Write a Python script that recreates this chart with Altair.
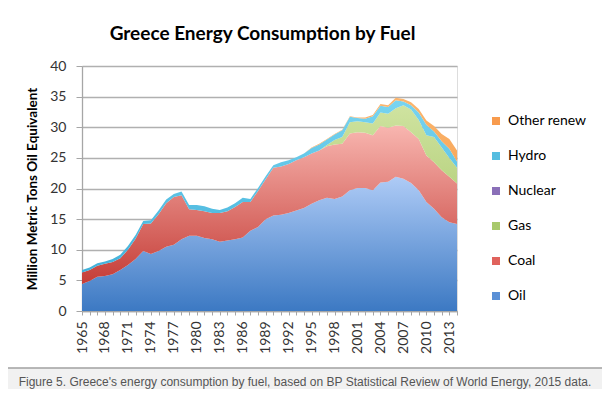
import altair as alt
import pandas as pd

years = list(range(1965, 2015))

oil = [4.4, 4.9, 5.6, 5.7, 6.0, 6.7, 7.5, 8.5, 9.8, 9.3,
       9.8, 10.5, 10.8, 11.7, 12.3, 12.3, 11.9, 11.7, 11.3, 11.5,
       11.7, 12.0, 13.1, 13.7, 15.0, 15.6, 15.7, 16.0, 16.4, 16.8,
       17.5, 18.1, 18.5, 18.3, 18.7, 19.7, 20.1, 20.1, 19.7, 21.0,
       21.1, 21.9, 21.6, 20.9, 19.7, 17.8, 16.7, 15.3, 14.5, 14.2]

coal = [1.9, 1.8, 1.8, 2.0, 2.0, 1.9, 2.5, 3.3, 4.4, 5.0,
        6.0, 7.1, 7.8, 7.2, 4.3, 4.2, 4.4, 4.3, 4.7, 4.8,
        5.3, 5.8, 4.7, 5.9, 6.5, 7.8, 7.9, 8.0, 8.2, 8.3,
        8.2, 8.1, 8.4, 8.9, 8.6, 9.3, 9.1, 9.0, 9.0, 9.2,
        8.8, 8.4, 8.6, 8.3, 8.4, 7.6, 7.6, 7.7, 7.4, 6.6]

gas = [0.0] * 31 + [0.0, 0.2, 0.7, 1.1, 1.8, 1.8, 1.7, 1.9, 2.2,
                    2.3, 2.8, 3.4, 3.7, 3.1, 3.3, 4.1, 3.7, 3.1, 2.6][:19]

nuclear = [0.0] * 50

hydro = [0.4, 0.4, 0.4, 0.4, 0.5, 0.6, 0.6, 0.6, 0.5, 0.5,
         0.6, 0.6, 0.5, 0.6, 0.7, 0.8, 0.8, 0.7, 0.5, 0.6,
         0.6, 0.7, 0.5, 0.5, 0.5, 0.4, 0.7, 0.6, 0.5, 0.6,
         0.9, 1.0, 0.9, 0.9, 1.1, 0.9, 0.5, 0.6, 1.2, 1.1,
         1.1, 1.3, 0.6, 0.7, 1.2, 1.7, 0.9, 1.0, 1.5, 1.0]

other_renew = [0.0] * 30 + [0.1, 0.1, 0.1, 0.1, 0.1, 0.1, 0.1, 0.2, 0.2, 0.3,
                            0.3, 0.4, 0.4, 0.5, 0.6, 0.7, 0.9, 1.2, 1.6, 1.8]

fuels = ["Oil", "Coal", "Gas", "Nuclear", "Hydro", "Other renew"]
series = [oil, coal, gas, nuclear, hydro, other_renew]
legend_colors = ["#5a90d6", "#e0625c", "#a8c96c", "#8a6fb8", "#55bde0", "#f89b4d"]
gradients = {
    "Oil": ("#aecbf6", "#3c79c3"),
    "Coal": ("#f8b6b0", "#c53d37"),
    "Gas": ("#cfe3a0", "#a4c465"),
    "Hydro": ("#78d4f0", "#41b1da"),
    "Other renew": ("#fbb56e", "#f3953f"),
}

title_text = "Greece Energy Consumption by Fuel"
y_title = "Million Metric Tons Oil Equivalent"
caption = "Figure 5. Greece's energy consumption by fuel, based on BP Statistical Review of World Energy, 2015 data."

rows = []
for k, (f, vals) in enumerate(zip(fuels, series)):
    for yr, v in zip(years, vals):
        rows.append({"year": yr, "fuel": f, "value": v, "order": k})
df = pd.DataFrame(rows)

FONT = "Lato"

x_enc = alt.X(
    "year:Q",
    scale=alt.Scale(domain=[1965, 2014], nice=False, zero=False),
    axis=alt.Axis(
        values=years,
        format="d",
        labelExpr="(datum.value - 1965) % 3 == 0 ? datum.label : ''",
        labelAngle=270,
        labelOverlap=False,
        labelBound=False,
        labelFont=FONT,
        labelFontSize=14,
        labelColor="#333333",
        labelPadding=6,
        tickSize=4,
        tickColor="#a6a6a6",
        domainColor="#a6a6a6",
        domainWidth=1.3,
        grid=False,
        title=None,
    ),
)

y_enc = alt.Y(
    "hi:Q",
    scale=alt.Scale(domain=[0, 40], nice=False),
    axis=alt.Axis(
        values=[0, 5, 10, 15, 20, 25, 30, 35, 40],
        labelFont=FONT,
        labelFontSize=14,
        labelColor="#333333",
        labelPadding=10,
        tickSize=6,
        tickColor="#a6a6a6",
        domainColor="#a6a6a6",
        domainWidth=1.3,
        gridColor="#b0b0b0",
        gridWidth=1.3,
        title=y_title,
        titleFont=FONT,
        titleFontSize=13.5,
        titleFontWeight="bold",
        titleColor="#000000",
        titlePadding=10,
    ),
)

base = alt.Chart(df).transform_stack(
    stack="value",
    groupby=["year"],
    as_=["lo", "hi"],
    sort=[alt.SortField("order", order="ascending")],
)

layers = []
for f in fuels:
    if f == "Nuclear":
        continue
    top, bot = gradients[f]
    grad = alt.Gradient(
        gradient="linear",
        stops=[alt.GradientStop(color=top, offset=0), alt.GradientStop(color=bot, offset=1)],
        x1=0, x2=0, y1=0, y2=1,
    )
    layer = base.transform_filter(alt.datum.fuel == f).mark_area(
        color=grad, interpolate="linear"
    ).encode(x=x_enc, y=y_enc, y2="lo:Q")
    layers.append(layer)

legend_df = pd.DataFrame({"fuel": fuels, "year": [1965] * 6, "hi": [0] * 6})
legend_layer = alt.Chart(legend_df).mark_square(size=0, filled=True).encode(
    x=x_enc,
    y=y_enc,
    color=alt.Color(
        "fuel:N",
        scale=alt.Scale(domain=fuels[::-1], range=legend_colors[::-1]),
        legend=alt.Legend(
            orient="none",
            legendX=407,
            legendY=48,
            title=None,
            padding=0,
            symbolType="square",
            symbolSize=64,
            symbolOpacity=1,
            symbolStrokeWidth=0,
            labelFont=FONT,
            labelFontSize=14,
            labelColor="#000000",
            labelOffset=5,
            rowPadding=21,
            labelLimit=200,
        ),
    ),
)

cap_df = pd.DataFrame({"t": [caption]})
cap_rect = alt.Chart(cap_df).mark_rect(color="#f1f1f1").encode(
    x=alt.value(-74), x2=alt.value(520), y=alt.value(302), y2=alt.value(330)
)
cap_line = alt.Chart(cap_df).mark_rule(color="#a0a0a0", strokeWidth=1.5).encode(
    x=alt.value(-74), x2=alt.value(520), y=alt.value(302)
)
cap_text = alt.Chart(cap_df).mark_text(
    font="Liberation Sans", fontSize=12, color="#555555", align="center", baseline="middle"
).encode(x=alt.value(223), y=alt.value(316), text="t:N")

chart = alt.layer(*layers, legend_layer, cap_rect, cap_line, cap_text).properties(
    width=375,
    height=245,
    title=alt.TitleParams(
        text=title_text,
        font=FONT,
        fontSize=19,
        fontWeight="bold",
        color="#000000",
        anchor="middle",
        frame="group",
        dx=-7,
        offset=0,
        baseline="alphabetic",
    ),
    padding={"left": 74, "top": 58, "right": 145, "bottom": 78},
    autosize=alt.AutoSizeParams(type="none"),
).configure_view(stroke=None).configure(background="white")

chart.save("out.html", embed_options={"renderer": "svg", "actions": False})
